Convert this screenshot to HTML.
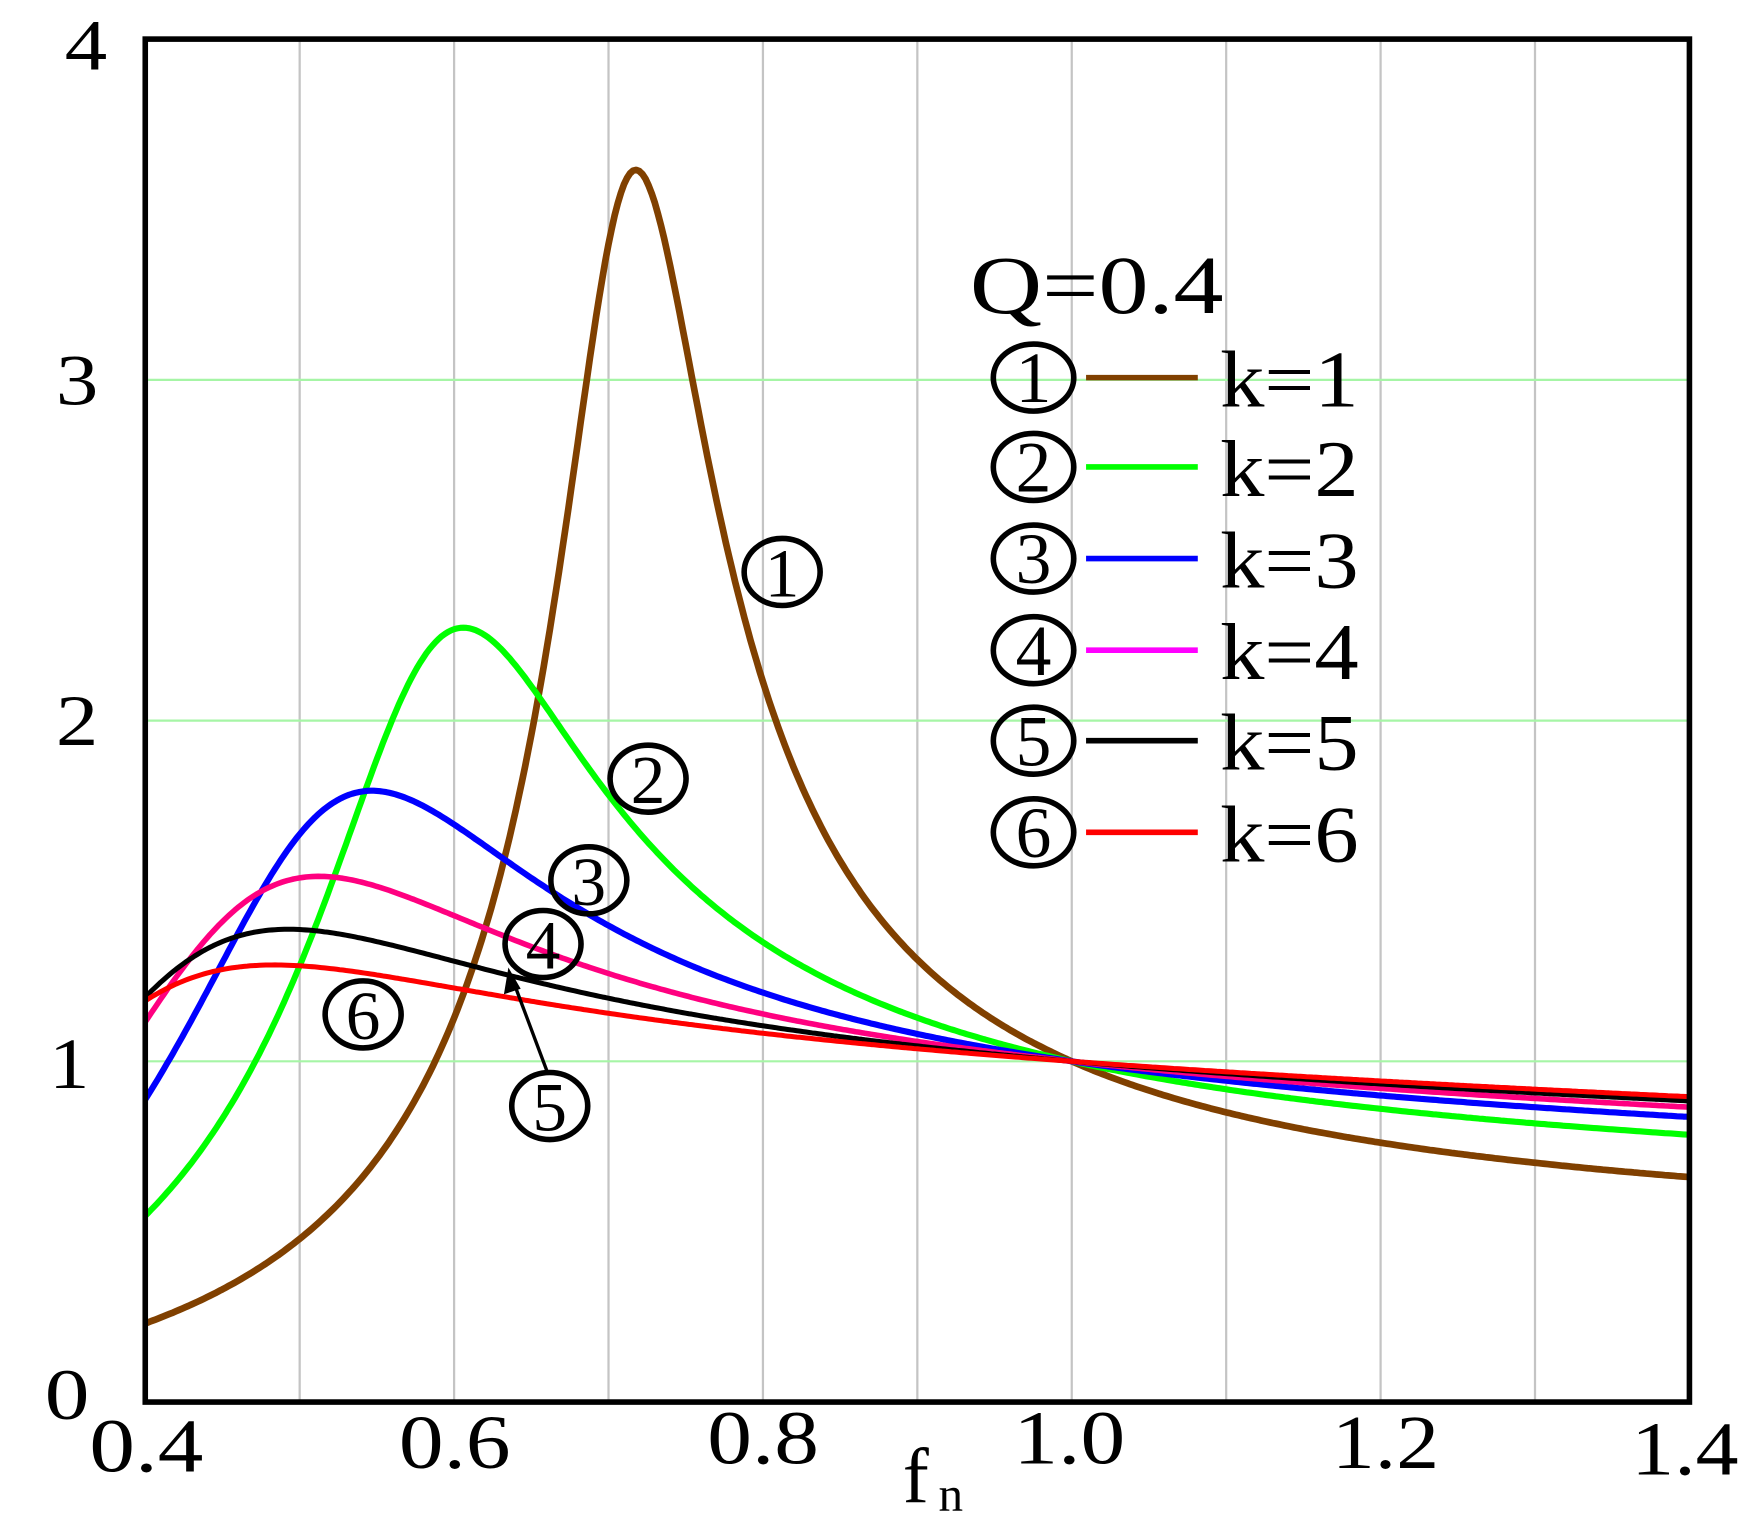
<!DOCTYPE html>
<html><head><meta charset="utf-8"><style>
html,body{margin:0;padding:0;background:#fff;}
svg{display:block;}
text{font-family:"Liberation Serif",serif;fill:#000;}
</style></head><body>
<svg id="s" width="1752" height="1535" viewBox="0 0 1568 1374" preserveAspectRatio="none" xmlns="http://www.w3.org/2000/svg">
<rect x="0" y="0" width="1568" height="1374" fill="#fff"/>
<g id="grid"></g>
<g id="curves" fill="none" stroke-linejoin="round"></g>
<rect x="130" y="35" width="1382" height="1220" fill="none" stroke="#000" stroke-width="5"/>
<g font-size="64">
<text x="58" y="62" textLength="38" lengthAdjust="spacingAndGlyphs">4</text>
<text x="50" y="362" textLength="38" lengthAdjust="spacingAndGlyphs">3</text>
<text x="50" y="667" textLength="38" lengthAdjust="spacingAndGlyphs">2</text>
<text x="44" y="974" textLength="36" lengthAdjust="spacingAndGlyphs">1</text>
<text x="40" y="1270" textLength="40" lengthAdjust="spacingAndGlyphs">0</text>
</g>
<g font-size="68">
<text x="80" y="1317" textLength="102" lengthAdjust="spacingAndGlyphs">0.4</text>
<text x="357" y="1314" textLength="100" lengthAdjust="spacingAndGlyphs">0.6</text>
<text x="633" y="1310" textLength="100" lengthAdjust="spacingAndGlyphs">0.8</text>
<text x="907" y="1310" textLength="100" lengthAdjust="spacingAndGlyphs">1.0</text>
<text x="1192" y="1314" textLength="96" lengthAdjust="spacingAndGlyphs">1.2</text>
<text x="1460" y="1320" textLength="96" lengthAdjust="spacingAndGlyphs">1.4</text>
</g>
<text x="808" y="1345" font-size="70">f</text>
<text x="840" y="1352" font-size="44">n</text>
<text x="868" y="280" font-size="74" textLength="227" lengthAdjust="spacingAndGlyphs">Q=0.4</text>
<g id="legend" font-size="72"></g>
<g fill="none" stroke="#000" stroke-width="5">
<ellipse cx="700" cy="512" rx="34" ry="30"/>
<ellipse cx="580" cy="697" rx="34" ry="30"/>
<ellipse cx="527" cy="788" rx="34" ry="30"/>
<ellipse cx="486" cy="845" rx="34" ry="30"/>
<ellipse cx="325" cy="908" rx="34" ry="30"/>
<ellipse cx="492" cy="990" rx="34" ry="30"/>
<line x1="490" y1="960" x2="460" y2="880" stroke-width="3"/>
</g>
<polygon points="455,866 451,890 466,885" fill="#000"/>
<g font-size="62" text-anchor="middle">
<text x="700" y="534">1</text>
<text x="580" y="719">2</text>
<text x="527" y="810">3</text>
<text x="486" y="867">4</text>
<text x="325" y="930">6</text>
<text x="492" y="1012">5</text>
</g>
</svg>
<script>
(function(){
var NS="http://www.w3.org/2000/svg";
function X(f){return 130+(f-0.4)*1382;}
function Y(v){return 1255-305*v;}
var g=document.getElementById('grid');
for(var i=1;i<=9;i++){var f=0.4+i*0.1;var l=document.createElementNS(NS,'line');
l.setAttribute('x1',X(f));l.setAttribute('x2',X(f));l.setAttribute('y1',35);l.setAttribute('y2',1255);
l.setAttribute('stroke','#c4c4c4');l.setAttribute('stroke-width','2');g.appendChild(l);}
for(var v=1;v<=3;v++){var l=document.createElementNS(NS,'line');
l.setAttribute('x1',130);l.setAttribute('x2',1512);l.setAttribute('y1',Y(v));l.setAttribute('y2',Y(v));
l.setAttribute('stroke','#a6f5a6');l.setAttribute('stroke-width','2');g.appendChild(l);}
var cols=['#804000','#00ff00','#0000ff','#ff0080','#000000','#ff0000'];
var lcols=['#804000','#00ff00','#0000ff','#ff00ff','#000000','#ff0000'];
var ws=[6,5.5,5.5,5,4.5,4.5];
var Q=0.4,c=document.getElementById('curves');
for(var k=1;k<=6;k++){var d='';
for(var f=0.4;f<=1.4001;f+=0.002){var a=1+1/k-1/(k*f*f);var b=Q*(f-1/f);var M=1/Math.sqrt(a*a+b*b);
d+=(d?'L':'M')+X(f).toFixed(1)+','+Y(M).toFixed(1);}
var p=document.createElementNS(NS,'path');p.setAttribute('d',d);p.setAttribute('stroke',cols[k-1]);p.setAttribute('stroke-width',ws[k-1]);c.appendChild(p);}
var L=document.getElementById('legend');var ys=[338,418,500,582,663,745];
for(var i=0;i<6;i++){var y=ys[i];
var e=document.createElementNS(NS,'ellipse');e.setAttribute('cx',925);e.setAttribute('cy',y);e.setAttribute('rx',36);e.setAttribute('ry',30);e.setAttribute('fill','none');e.setAttribute('stroke','#000');e.setAttribute('stroke-width',5);L.appendChild(e);
var t=document.createElementNS(NS,'text');t.setAttribute('x',925);t.setAttribute('y',y+22);t.setAttribute('font-size',64);t.setAttribute('text-anchor','middle');t.textContent=String(i+1);L.appendChild(t);
var l=document.createElementNS(NS,'line');l.setAttribute('x1',972);l.setAttribute('x2',1072);l.setAttribute('y1',y);l.setAttribute('y2',y);l.setAttribute('stroke',lcols[i]);l.setAttribute('stroke-width',5);L.appendChild(l);
var t2=document.createElementNS(NS,'text');t2.setAttribute('x',1092);t2.setAttribute('y',y+26);t2.setAttribute('textLength',124);t2.setAttribute('lengthAdjust','spacingAndGlyphs');t2.textContent='k='+(i+1);L.appendChild(t2);}
})();
</script>
</body></html>
